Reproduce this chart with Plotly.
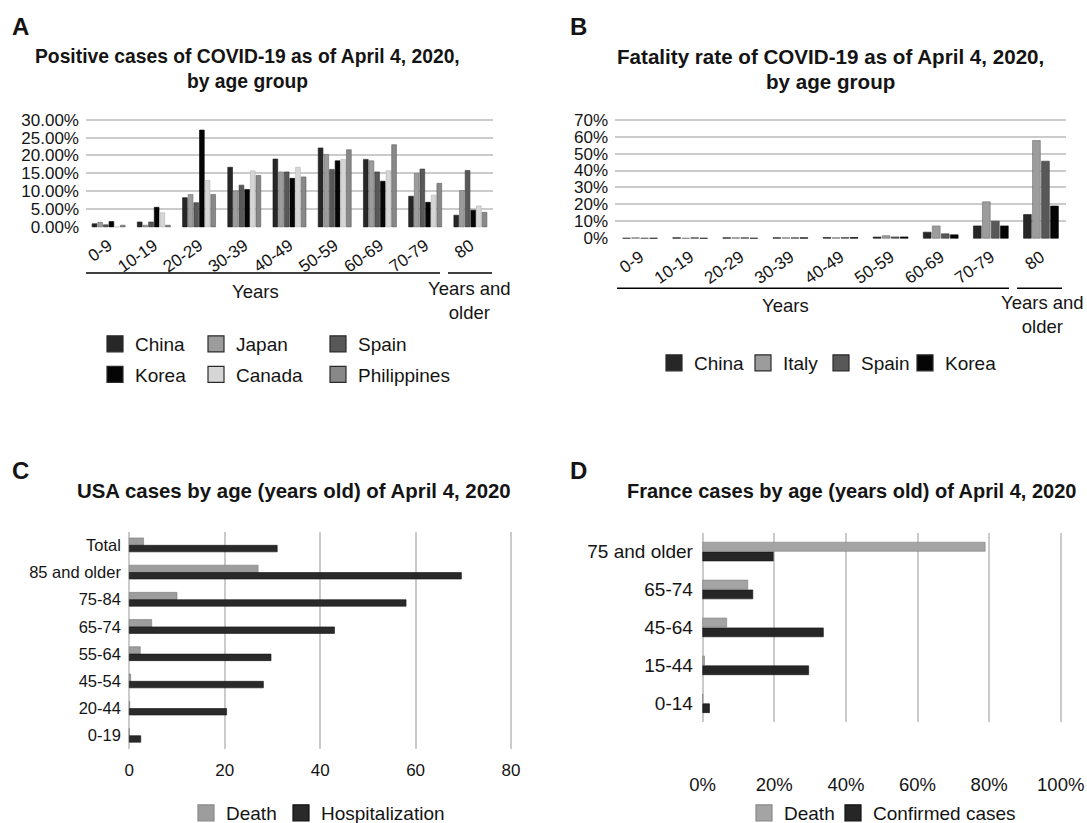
import plotly.graph_objects as go

W, H = 1087, 823
FONT = "Arial, 'Liberation Sans', Helvetica, sans-serif"
TXT = "#141414"
GRID = "#cbcbcb"

# ---------------- data ----------------
age_groups = ["0-9", "10-19", "20-29", "30-39", "40-49", "50-59", "60-69", "70-79", "80"]

# Panel A: positive cases (% of cases) by age group
pos_china = [0.9, 1.4, 8.2, 16.7, 19.0, 22.1, 18.9, 8.6, 3.3]
pos_japan = [1.3, 0.5, 9.1, 10.1, 15.4, 20.3, 18.5, 15.0, 10.2]
pos_spain = [0.6, 1.4, 6.8, 11.7, 15.4, 16.1, 15.4, 16.2, 15.8]
pos_korea = [1.5, 5.5, 27.1, 10.5, 13.6, 18.5, 12.8, 6.9, 4.7]
pos_canada = [0.0, 4.0, 13.0, 15.7, 16.7, 18.9, 15.7, 8.9, 5.9]
pos_philippines = [0.5, 0.5, 9.1, 14.4, 14.0, 21.6, 23.0, 12.2, 4.1]

# Panel B: fatality rate (%) by age group
fat_china = [0.0, 0.3, 0.3, 0.3, 0.4, 0.7, 3.6, 7.3, 14.0]
fat_italy = [0.3, 0.0, 0.3, 0.3, 0.3, 1.5, 7.3, 21.5, 57.7]
fat_spain = [0.0, 0.3, 0.3, 0.3, 0.4, 0.8, 2.6, 10.1, 45.5]
fat_korea = [0.0, 0.0, 0.0, 0.3, 0.4, 0.8, 2.0, 7.3, 19.0]

# Panel C: USA
usa_groups = ["Total", "85 and older", "75-84", "65-74", "55-64", "45-54", "20-44", "0-19"]
usa_death = [3.0, 27.0, 10.0, 4.7, 2.3, 0.3, 0.1, 0.0]
usa_hospitalization = [31.0, 69.6, 58.0, 43.0, 29.7, 28.1, 20.4, 2.4]

# Panel D: France (%)
fr_groups = ["75 and older", "65-74", "45-64", "15-44", "0-14"]
fr_death = [78.9, 12.6, 6.7, 0.5, 0.0]
fr_confirmed = [19.7, 14.0, 33.7, 29.6, 1.9]


def fx(p):
    return p / W


def fy(p):
    return 1 - p / H


fig = go.Figure()
legend_layouts = {}
legend_counter = [0]


def add_legend_item(name, color, edge, box_left, cy, fs, xa, ya):
    legend_counter[0] += 1
    k = legend_counter[0]
    key = "legend" if k == 1 else f"legend{k}"
    fig.add_trace(go.Scatter(
        x=[None], y=[None], mode="markers", name=name,
        marker=dict(symbol="square", size=16, color=color, line=dict(color=edge, width=1.2)),
        xaxis=xa, yaxis=ya, legend=key, showlegend=True, hoverinfo="skip"))
    legend_layouts[key] = dict(
        x=fx(box_left + 8 - 20), xanchor="left", y=fy(cy), yanchor="middle",
        orientation="h", bgcolor="rgba(0,0,0,0)", borderwidth=0,
        font=dict(size=fs, color=TXT, family=FONT), itemclick=False, itemdoubleclick=False)


# ---------------- Panel A ----------------
series_a = [
    ("China", pos_china, "#272727", "#1a1a1a"),
    ("Japan", pos_japan, "#9c9c9c", "#6e6e6e"),
    ("Spain", pos_spain, "#585858", "#3a3a3a"),
    ("Korea", pos_korea, "#050505", "#000000"),
    ("Canada", pos_canada, "#d6d6d6", "#b5b5b5"),
    ("Philippines", pos_philippines, "#888888", "#5e5e5e"),
]
step_a, width_a = 0.125, 0.105
for i, (name, vals, col, edge) in enumerate(series_a):
    fig.add_trace(go.Bar(
        x=age_groups, y=vals, name=name, xaxis="x", yaxis="y",
        marker=dict(color=col, line=dict(color=edge, width=0.6)),
        width=width_a, offset=-3 * step_a + i * step_a + (step_a - width_a) / 2,
        showlegend=False))

leg_a_pos = [(107, 344), (208, 344), (330, 344), (107, 374.5), (208, 374.5), (330, 374.5)]
for (name, vals, col, edge), (bl, cy) in zip(series_a, leg_a_pos):
    add_legend_item(name, col, "#2a2a2a", bl, cy, 19, "x", "y")

# ---------------- Panel B ----------------
series_b = [
    ("China", fat_china, "#272727", "#1a1a1a"),
    ("Italy", fat_italy, "#9c9c9c", "#6e6e6e"),
    ("Spain", fat_spain, "#585858", "#3a3a3a"),
    ("Korea", fat_korea, "#050505", "#000000"),
]
step_b, width_b = 0.18, 0.155
for i, (name, vals, col, edge) in enumerate(series_b):
    fig.add_trace(go.Bar(
        x=age_groups, y=vals, name=name, xaxis="x2", yaxis="y2",
        marker=dict(color=col, line=dict(color=edge, width=0.6)),
        width=width_b, offset=-2 * step_b + i * step_b + (step_b - width_b) / 2,
        showlegend=False))

leg_b_pos = [(666, 363), (755, 363), (833, 363), (917, 363)]
for (name, vals, col, edge), (bl, cy) in zip(series_b, leg_b_pos):
    add_legend_item(name, col, "#2a2a2a", bl, cy, 19, "x2", "y2")

# ---------------- Panel C ----------------
fig.add_trace(go.Bar(
    y=usa_groups, x=usa_death, name="Death", orientation="h", xaxis="x3", yaxis="y3",
    marker=dict(color="#9d9d9d", line=dict(color="#7a7a7a", width=0.6)),
    width=0.27, offset=0.0, showlegend=False))
fig.add_trace(go.Bar(
    y=usa_groups, x=usa_hospitalization, name="Hospitalization", orientation="h",
    xaxis="x3", yaxis="y3",
    marker=dict(color="#2a2a2a", line=dict(color="#111111", width=0.6)),
    width=0.24, offset=-0.24, showlegend=False))
add_legend_item("Death", "#9d9d9d", "#8a8a8a", 198, 813, 19, "x3", "y3")
add_legend_item("Hospitalization", "#2a2a2a", "#111111", 293, 813, 19, "x3", "y3")

# ---------------- Panel D ----------------
fig.add_trace(go.Bar(
    y=fr_groups, x=fr_death, name="Death", orientation="h", xaxis="x4", yaxis="y4",
    marker=dict(color="#a4a4a4", line=dict(color="#808080", width=0.6)),
    width=0.24, offset=0.01, showlegend=False))
fig.add_trace(go.Bar(
    y=fr_groups, x=fr_confirmed, name="Confirmed cases", orientation="h",
    xaxis="x4", yaxis="y4",
    marker=dict(color="#262626", line=dict(color="#111111", width=0.6)),
    width=0.235, offset=-0.245, showlegend=False))
add_legend_item("Death", "#a4a4a4", "#8a8a8a", 756, 813, 19, "x4", "y4")
add_legend_item("Confirmed cases", "#262626", "#111111", 845, 813, 19, "x4", "y4")

# ---------------- axes ----------------
cat_x = dict(type="category", showgrid=False, showline=False, zeroline=False, ticks="",
             tickangle=-35, tickfont=dict(size=17, color=TXT, family=FONT),
             categoryorder="array", categoryarray=age_groups, ticklabelstandoff=4,
             fixedrange=True, automargin=False)
val_y = dict(showgrid=True, gridcolor=GRID, gridwidth=2, zeroline=False, showline=False,
             ticks="", tick0=0, ticksuffix="%", tickfont=dict(size=17, color=TXT, family=FONT),
             ticklabelstandoff=6, fixedrange=True, automargin=False)

fig.update_layout(
    xaxis=dict(cat_x, domain=[fx(86), fx(493)], anchor="y"),
    yaxis=dict(val_y, domain=[fy(227.7), fy(118.6)], anchor="x", range=[-0.2, 30.3],
               dtick=5, tickformat=".2f"),
    xaxis2=dict(cat_x, domain=[fx(615), fx(1066)], anchor="y2"),
    yaxis2=dict(val_y, domain=[fy(239.1), fy(118.5)], anchor="x2", range=[-0.5, 70.7],
                dtick=10, tickformat="d"),
    xaxis3=dict(domain=[fx(126.9), fx(513.4)], anchor="y3", range=[-0.5, 80.5], dtick=20, tick0=0,
                showgrid=True, gridcolor=GRID, gridwidth=2, zeroline=False, showline=False,
                ticks="", tickfont=dict(size=17, color=TXT, family=FONT), ticklabelstandoff=9,
                fixedrange=True, automargin=False),
    yaxis3=dict(domain=[fy(749.3), fy(531.7)], anchor="x3", type="category",
                categoryorder="array", categoryarray=usa_groups[::-1], showgrid=False,
                zeroline=False, showline=False, ticks="",
                tickfont=dict(size=16.5, color=TXT, family=FONT), ticklabelstandoff=5,
                fixedrange=True, automargin=False),
    xaxis4=dict(domain=[fx(700.9), fx(1062.5)], anchor="y4", range=[-0.5, 100.5], dtick=20, tick0=0,
                ticksuffix="%", showgrid=True, gridcolor=GRID, gridwidth=2, zeroline=False,
                showline=False, ticks="", tickfont=dict(size=18.5, color=TXT, family=FONT),
                ticklabelstandoff=49, fixedrange=True, automargin=False),
    yaxis4=dict(domain=[fy(722.3), fy(532.7)], anchor="x4", type="category",
                categoryorder="array", categoryarray=fr_groups[::-1], showgrid=False,
                zeroline=False, showline=False, ticks="",
                tickfont=dict(size=19, color=TXT, family=FONT), ticklabelstandoff=7,
                fixedrange=True, automargin=False),
)


# ---------------- annotations ----------------
def ann(text, x, y, size, bold=False, xanchor="center"):
    return dict(text=f"<b>{text}</b>" if bold else text, x=fx(x), y=fy(y),
                xref="paper", yref="paper", xanchor=xanchor, yanchor="middle",
                showarrow=False, font=dict(size=size, color=TXT, family=FONT))


annotations = [
    ann("A", 10, 27, 24, bold=True, xanchor="left"),
    ann("B", 568, 27, 24, bold=True, xanchor="left"),
    ann("C", 10, 470, 24, bold=True, xanchor="left"),
    ann("D", 568, 470, 24, bold=True, xanchor="left"),
    ann("Positive cases of COVID-19 as of April 4, 2020,", 247.5, 56, 19.3, bold=True),
    ann("by age group", 247.5, 81, 19.3, bold=True),
    ann("Fatality rate of COVID-19 as of April 4, 2020,", 831, 56, 20.6, bold=True),
    ann("by age group", 831, 81, 20.6, bold=True),
    ann("USA cases by age (years old) of April 4, 2020", 294, 491, 20.4, bold=True),
    ann("France cases by age (years old) of April 4, 2020", 851, 491, 20.0, bold=True),
    ann("Years", 255.7, 291.7, 18.5),
    ann("Years and<br>older", 469, 300.5, 18.5),
    ann("Years", 785, 305, 18.5),
    ann("Years and<br>older", 1042, 314, 18.5),
]


def hline(x0, x1, y):
    return dict(type="line", xref="paper", yref="paper", x0=fx(x0), x1=fx(x1), y0=fy(y), y1=fy(y),
                line=dict(color="#000000", width=1.5))


shapes = [
    hline(86, 440, 273), hline(448, 492, 273),
    hline(617, 1009, 288.3), hline(1017, 1062, 288.3),
]

fig.update_layout(
    width=W, height=H, margin=dict(l=0, r=0, t=0, b=0, pad=0, autoexpand=False),
    paper_bgcolor="white", plot_bgcolor="white", barmode="overlay",
    font=dict(family=FONT, color=TXT), showlegend=True,
    annotations=annotations, shapes=shapes, hovermode=False,
    **legend_layouts,
)

fig.write_html("out.html", config={"displayModeBar": False},
               post_script="document.body.style.margin='0';")
